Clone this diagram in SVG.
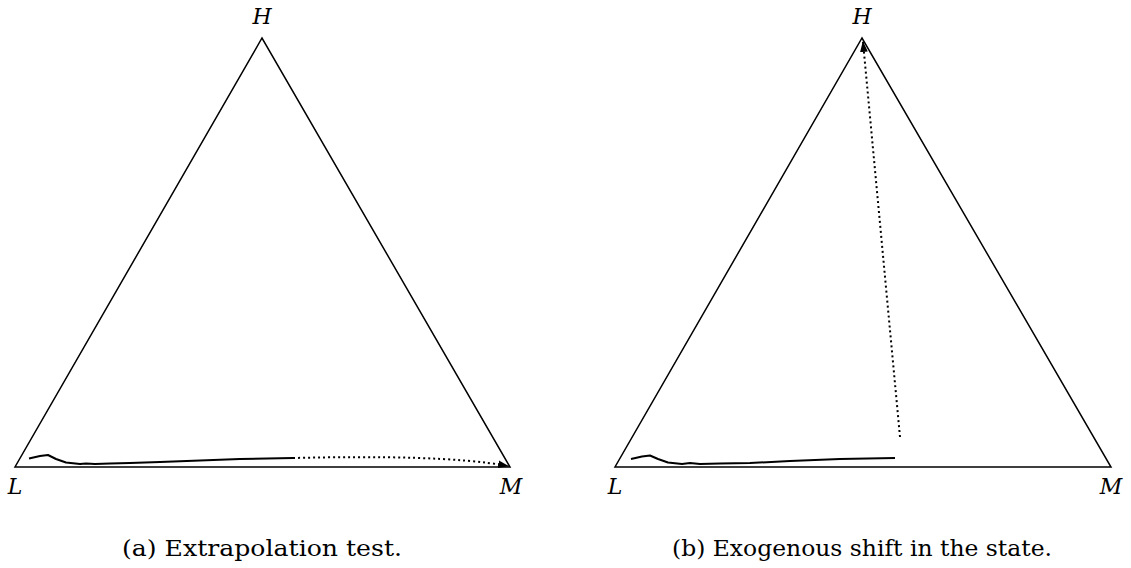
<svg xmlns="http://www.w3.org/2000/svg" width="1131" height="568" viewBox="0 0 1131 568">
<style>
.tri{fill:none;stroke:#000;stroke-width:1.5}
.path{fill:none;stroke:#000;stroke-width:2;stroke-linejoin:round}
.dot{fill:none;stroke:#000;stroke-width:2;stroke-dasharray:2 3}
.lbl{font-family:"DejaVu Serif","Liberation Serif",serif;font-style:italic;font-size:22px;fill:#000}
.cap{font-family:"DejaVu Serif","Liberation Serif",serif;font-size:22px;fill:#000}
</style>
<defs>
<marker id="ah2" viewBox="0 0 10 10" refX="9" refY="5" markerWidth="11" markerHeight="11" orient="auto" markerUnits="userSpaceOnUse">
<path d="M0,1.5 L10,5 L0,8.5 Z" fill="#000"/>
</marker>
</defs>
<g id="panel-a">
<polygon class="tri" points="15,467 510,467 262,38"/>
<text class="lbl" x="262" y="24" text-anchor="middle">H</text>
<text class="lbl" x="15" y="494" text-anchor="middle">L</text>
<text class="lbl" x="511" y="494" text-anchor="middle">M</text>
<text class="cap" x="122" y="556" textLength="280" lengthAdjust="spacingAndGlyphs">(a) Extrapolation test.</text>
</g>
<g id="panel-b">
<polygon class="tri" points="615,467 1111,467 862,38"/>
<text class="lbl" x="862" y="24" text-anchor="middle">H</text>
<text class="lbl" x="615" y="494" text-anchor="middle">L</text>
<text class="lbl" x="1111" y="494" text-anchor="middle">M</text>
<text class="cap" x="672" y="556" textLength="380" lengthAdjust="spacingAndGlyphs">(b) Exogenous shift in the state.</text>
</g>
<g id="connectors">
<path class="path" d="M29,458.5 L40,456 L48,455 L56,459 L66,462.5 L80,464 L86,463.5 L95,464 L110,463.5 L130,463 L160,462 L200,460.5 L240,459 L293,458"/>
<path class="dot" d="M293,458 C380,456 460,457 508,466" marker-end="url(#ah2)"/>
<path class="path" d="M631,459 L642,456.5 L650,455.5 L658,459 L668,462.5 L682,464 L690,463 L700,464 L720,463.5 L750,463 L790,461 L840,459 L895,458"/>
<path class="dot" d="M900,437 L863,42" marker-end="url(#ah2)"/>
</g>
</svg>
